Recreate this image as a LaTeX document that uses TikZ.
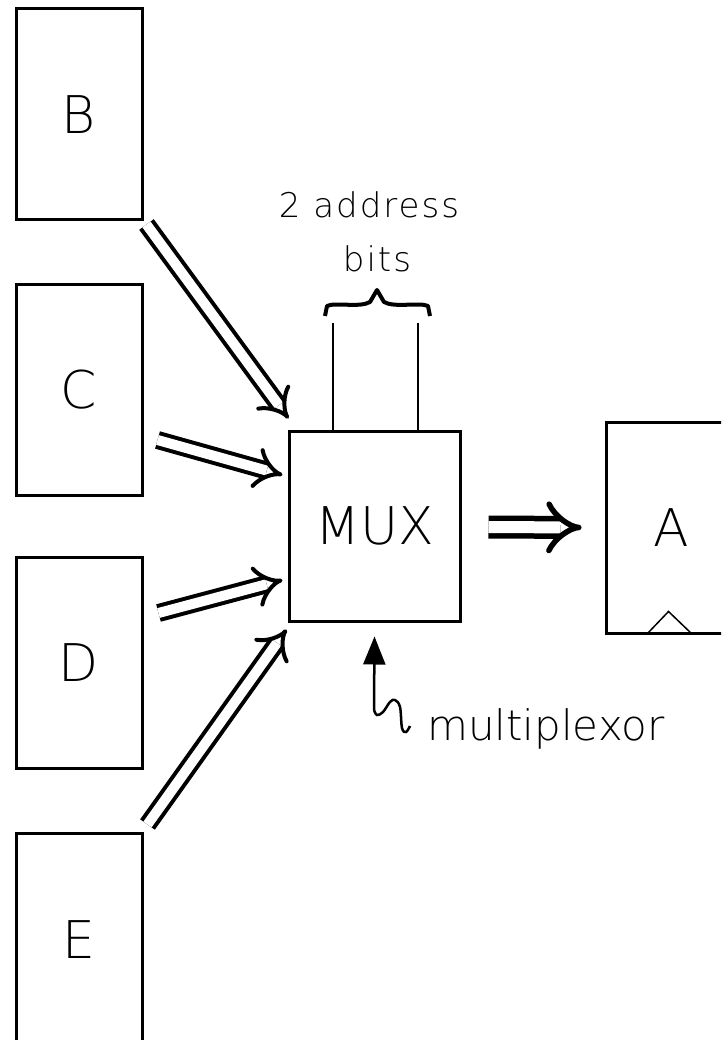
\documentclass[tikz,border=0pt]{standalone}
\usepackage{fontspec}
\setmainfont{DejaVu Sans}[UprightFont={* ExtraLight}]
\usetikzlibrary{arrows.meta,calc}
\begin{document}
\begin{tikzpicture}[x=1pt,y=-1pt,
  box/.style={draw,line width=3pt,minimum width=126pt,inner sep=0pt,font=\fontsize{52}{60}\selectfont},
  dbl/.style={double,line width=4pt,double distance=10pt,-{Implies}},
  bigdbl/.style={double,line width=5.5pt,double distance=12pt,-{Implies}},
  thin/.style={line width=2.5pt},
  lbl/.style={inner sep=0pt,anchor=base,font=\fontsize{34}{40}\selectfont\addfontfeature{LetterSpace=6}},
]
\useasboundingbox (0,0) rectangle (721,1040);
\clip (0,0) rectangle (721,1040);
% boxes
\node[box,minimum height=211pt] (B) at (79,114.5) {B};
\node[box,minimum height=210pt] (C) at (79,390) {C};
\node[box,minimum height=211pt] (D) at (79,662.5) {D};
\node[box,minimum height=214pt] (E) at (79,940) {E};
\node[box,minimum width=171pt,minimum height=190pt] (mux) at (374.5,526) {MUX};
\node[box,minimum width=130pt,minimum height=211pt] (A) at (671,527.5) {A};
% clock triangle in A
\draw[line width=1.5pt] ($(A.south west)+(42,0)$) -- ($(A.south west)+(64,-23)$) -- ($(A.south west)+(88,0)$);
% input arrows
\draw[dbl] ($(B.south east)+(3,3)$) -- ($(mux.north west)+(1,-11)$);
\draw[dbl] ($(C.east)+(14,50)$) -- ($(mux.west)+(-5,-51)$);
\draw[dbl] ($(D.east)+(15,-49.5)$) -- ($(mux.west)+(-5,54)$);
\draw[dbl] ($(E.north east)+(4,-7)$) -- ($(mux.south west)+(-1,7)$);
% output arrow
\draw[bigdbl] ($(mux.east)+(27,1)$) -- ($(A.west)+(-23,0)$);
% address bits
\node[lbl] (ad1) at (369,218) {2 address};
\node[lbl] (ad2) at (377,272) {bits};
\draw[line width=4pt,line join=round] (325,316) -- (327,306) .. controls (335,302) and (360,308) .. (370,302) -- (377,290) -- (384,302) .. controls (394,308) and (420,302) .. (428,306) -- (430,316);
\coordinate (b1) at (333,323);
\coordinate (b2) at (418,323);
\draw[thin] (b1) -- (b1 |- mux.north);
\draw[thin] (b2) -- (b2 |- mux.north);
% multiplexor label
\node[inner sep=0pt,anchor=base west,font=\fontsize{42}{50}\selectfont] (mp) at (427,740) {multiplexor};
\coordinate (sq) at (374,710);
\draw[thin,-{Triangle[length=28pt,width=22pt]}] (sq) -- ($(mux.south)+(0,14)$);
\draw[thin] plot[smooth,tension=0.6] coordinates {(374,710) (377,715) (383,712) (390,702) (395,700) (400,707) (402,728) (406,732) (410,726)};
\end{tikzpicture}
\end{document}
